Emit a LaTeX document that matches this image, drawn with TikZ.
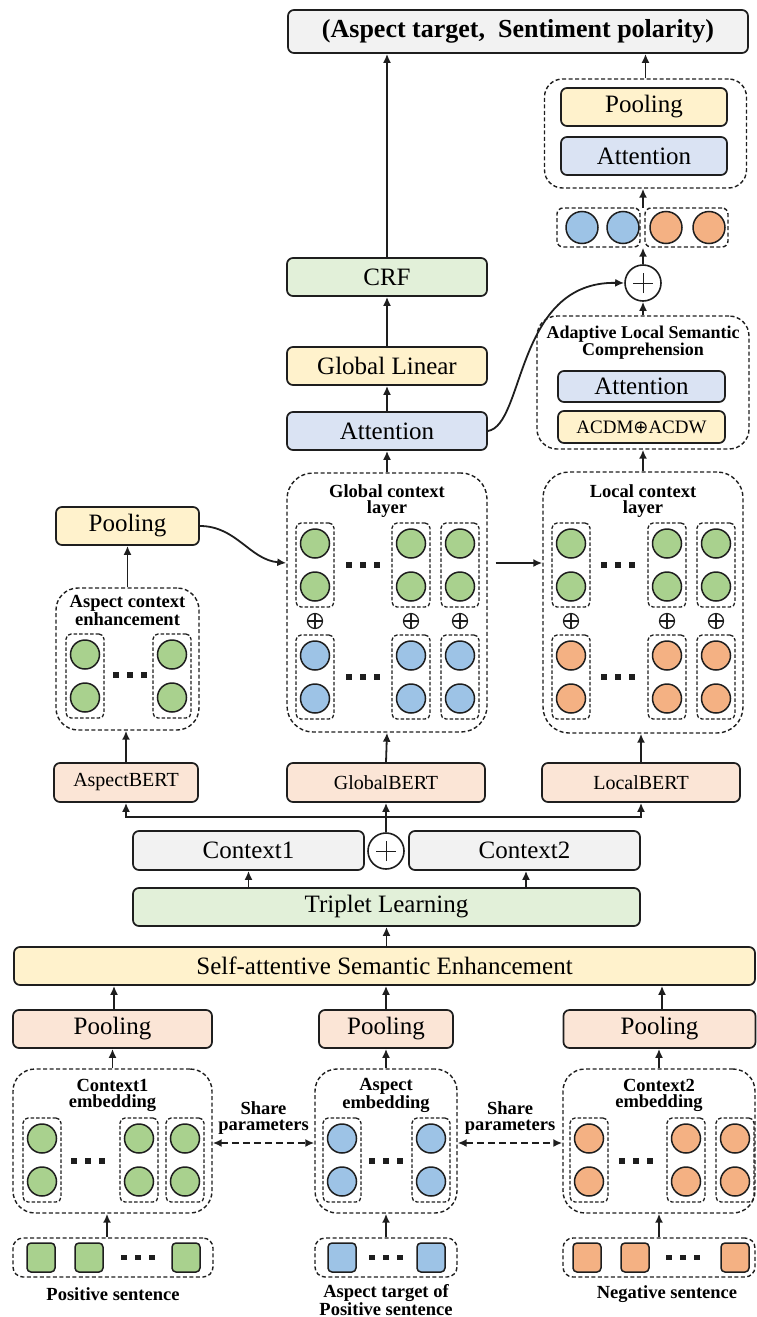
\documentclass[tikz,border=0pt]{standalone}
\usepackage{fontspec}
\setmainfont{Liberation Serif}
\newfontfamily\dejavu{DejaVu Sans}
\usetikzlibrary{arrows.meta}
\definecolor{ink}{HTML}{1E1E1E}
\definecolor{fgray}{HTML}{F2F2F2}
\definecolor{fgreen}{HTML}{E2F0D9}
\definecolor{fyellow}{HTML}{FFF2CC}
\definecolor{fblue}{HTML}{DAE3F3}
\definecolor{fsalmon}{HTML}{FBE5D6}
\definecolor{cgreen}{HTML}{A9D18E}
\definecolor{cblue}{HTML}{9DC3E6}
\definecolor{corange}{HTML}{F4B183}
\newcommand{\colstack}[4]{%
  \node[stackbox] (#1) at (#2,{#3+42}) {};
  \node[ball,fill=#4] (#1-a) at (#2,{#3+20.5}) {};
  \node[ball,fill=#4] (#1-b) at (#2,{#3+63.5}) {};
}
\newcommand{\tridots}[2]{%
  \foreach \dx in {-14,0,14}{\fill[ink] ({#1+\dx-2.9},{#2-2.9}) rectangle ({#1+\dx+2.9},{#2+2.9});}%
}
\begin{document}
\begin{tikzpicture}[x=1pt,y=-1pt,
  box/.style={draw=ink, line width=1.7pt, rounded corners=6pt, inner sep=0pt, align=center, font=\fontsize{25}{28}\selectfont},
  dbox/.style={draw=ink, line width=1.4pt, dash pattern=on 4pt off 2.5pt, rounded corners=22pt, inner sep=0pt},
  sbox/.style={draw=ink, line width=1.4pt, dash pattern=on 4pt off 2.5pt, rounded corners=8pt, inner sep=0pt},
  stackbox/.style={draw=ink, line width=1.3pt, dash pattern=on 3.5pt off 2pt, rounded corners=5pt, minimum width=38pt, minimum height=84pt, inner sep=0pt},
  ball/.style={circle, draw=ink, line width=1.5pt, minimum size=29pt, inner sep=0pt},
  bigball/.style={circle, draw=ink, line width=1.5pt, minimum size=32pt, inner sep=0pt},
  sq/.style={rectangle, rounded corners=4pt, draw=ink, line width=1.5pt, minimum width=28pt, minimum height=29pt, inner sep=0pt},
  arr/.style={-{Latex[length=9pt,width=8pt]}, line width=1.8pt, draw=ink},
  mid/.style={font=\fontsize{20}{22}\selectfont},
  ttl/.style={font=\bfseries\fontsize{18.5}{16}\selectfont, align=center, inner sep=0pt},
  oplus/.style={circle, draw=ink, line width=1.2pt, minimum size=15pt, inner sep=0pt,
    path picture={\draw[ink, line width=1.2pt] (path picture bounding box.west) -- (path picture bounding box.east) (path picture bounding box.north) -- (path picture bounding box.south);}},
  bigplus/.style={circle, draw=ink, line width=1.6pt, minimum size=36pt, inner sep=0pt,
    path picture={\draw[ink, line width=0.9pt] ([xshift=-10pt]path picture bounding box.center) -- ([xshift=10pt]path picture bounding box.center) ([yshift=-10pt]path picture bounding box.center) -- ([yshift=10pt]path picture bounding box.center);}}
]
\useasboundingbox (0,0) rectangle (756,1317);

% ---------- top ----------
\node[box, fill=fgray, minimum width=460pt, minimum height=43pt, font=\bfseries\fontsize{26}{28}\selectfont] (title) at (518,31.5) {(Aspect target,\ \ Sentiment polarity)};

\node[dbox, minimum width=202pt, minimum height=109pt, rounded corners=18pt] (rdash) at (645.5,133.5) {};
\node[box, fill=fyellow, minimum width=166pt, minimum height=38pt] (rpool) at (644,107) {Pooling};
\node[box, fill=fblue, minimum width=166pt, minimum height=38pt] (ratt) at (644,156) {Attention};

\node[sbox, rounded corners=6pt, minimum width=83pt, minimum height=39pt] (g1) at (598.5,227.5) {};
\node[sbox, rounded corners=6pt, minimum width=83pt, minimum height=39pt] (g2) at (686.5,227.5) {};
\node[bigball, fill=cblue] (g1a) at (582,227.5) {};
\node[bigball, fill=cblue] (g1b) at (623,227.5) {};
\node[bigball, fill=corange] (g2a) at (666,227.5) {};
\node[bigball, fill=corange] (g2b) at (709,227.5) {};
\coordinate (gmid) at (643,208);

\node[bigplus] (plusT) at (643,283) {};

\node[box, fill=fgreen, minimum width=200pt, minimum height=38pt] (crf) at (387,277) {CRF};
\node[box, fill=fyellow, minimum width=200pt, minimum height=38pt] (glin) at (387,366) {Global Linear};
\node[box, fill=fblue, minimum width=200pt, minimum height=38pt] (gatt) at (387,431) {Attention};

\node[dbox, minimum width=212pt, minimum height=133pt, rounded corners=20pt] (alsc) at (643,382.5) {};
\node[ttl, font=\bfseries\fontsize{18}{15.5}\selectfont] (alsct) at (643,343) {Adaptive Local Semantic\\Comprehension};
\node[box, fill=fblue, minimum width=167pt, minimum height=31pt] (latt) at (641.5,386.5) {Attention};
\node[box, fill=fyellow, minimum width=167pt, minimum height=32pt, font=\fontsize{19}{21}\selectfont] (acdm) at (641.5,427) {ACDM{\dejavu\fontsize{18}{20}\selectfont ⊕}ACDW};

% ---------- context layers ----------
\node[dbox, minimum width=200pt, minimum height=259pt, rounded corners=26pt] (glob) at (387,602.5) {};
\node[ttl] (globt) at (387,501) {Global context\\layer};
\colstack{gs1}{315}{523}{cgreen}
\colstack{gs2}{411}{523}{cgreen}
\colstack{gs3}{460}{523}{cgreen}
\colstack{gb1}{315}{635}{cblue}
\colstack{gb2}{411}{635}{cblue}
\colstack{gb3}{460}{635}{cblue}
\node[oplus] (gp1) at (315,621) {};
\node[oplus] (gp2) at (411,621) {};
\node[oplus] (gp3) at (460,621) {};
\tridots{363}{565}
\tridots{363}{677}

\node[dbox, minimum width=200pt, minimum height=261pt, rounded corners=26pt] (loc) at (643,602.5) {};
\node[ttl] (loct) at (643,501) {Local context\\layer};
\colstack{ls1}{571}{523}{cgreen}
\colstack{ls2}{667}{523}{cgreen}
\colstack{ls3}{716}{523}{cgreen}
\colstack{lo1}{571}{635}{corange}
\colstack{lo2}{667}{635}{corange}
\colstack{lo3}{716}{635}{corange}
\node[oplus] (lp1) at (571,621) {};
\node[oplus] (lp2) at (667,621) {};
\node[oplus] (lp3) at (716,621) {};
\tridots{618}{565}
\tridots{618}{677}

\node[box, fill=fyellow, minimum width=143pt, minimum height=38pt] (lpool) at (127.5,526) {Pooling};
\node[dbox, minimum width=143pt, minimum height=142pt, rounded corners=22pt] (ace) at (127.5,659) {};
\node[ttl] (acet) at (127.5,610.5) {Aspect context\\enhancement};
\colstack{as1}{85}{634}{cgreen}
\colstack{as2}{172}{634}{cgreen}
\tridots{130}{675}

% ---------- BERT row ----------
\node[box, fill=fsalmon, minimum width=144pt, minimum height=39pt, mid] (abert) at (126,782.5) {AspectBERT};
\node[box, fill=fsalmon, minimum width=198pt, minimum height=39pt, mid] (gbert) at (386,782.5) {GlobalBERT};
\node[box, fill=fsalmon, minimum width=198pt, minimum height=39pt, mid] (lbert) at (641,782.5) {LocalBERT};
\coordinate (bus) at (386,817);

\node[box, fill=fgray, minimum width=231pt, minimum height=39pt] (ctx1) at (248.5,850.5) {Context1};
\node[box, fill=fgray, minimum width=231pt, minimum height=39pt] (ctx2) at (524.5,850.5) {Context2};
\node[bigplus] (plusC) at (386,851) {};
\node[box, fill=fgreen, minimum width=507pt, minimum height=38pt] (trip) at (386.5,907) {Triplet Learning};
\node[box, fill=fyellow, minimum width=741pt, minimum height=38pt] (sase) at (384.5,966) {Self-attentive Semantic Enhancement};

% ---------- bottom ----------
\node[box, fill=fsalmon, minimum width=199pt, minimum height=38pt] (pool1) at (112.5,1029) {Pooling};
\node[box, fill=fsalmon, minimum width=134pt, minimum height=38pt] (pool2) at (386,1029) {Pooling};
\node[box, fill=fsalmon, minimum width=192pt, minimum height=38pt] (pool3) at (659.5,1029) {Pooling};

\node[dbox, minimum width=199pt, minimum height=144pt, rounded corners=22pt] (emb1) at (112.5,1141) {};
\node[ttl] (emb1t) at (112.5,1095.5) {Context1\\embedding};
\colstack{e1a}{42}{1118}{cgreen}
\colstack{e1b}{139}{1118}{cgreen}
\colstack{e1c}{185}{1118}{cgreen}
\tridots{88}{1161}

\node[dbox, minimum width=142pt, minimum height=144pt, rounded corners=22pt] (emb2) at (386,1141) {};
\node[ttl] (emb2t) at (386,1095.5) {Aspect\\embedding};
\colstack{e2a}{342}{1118}{cblue}
\colstack{e2b}{431}{1118}{cblue}
\tridots{386}{1161}

\node[dbox, minimum width=192pt, minimum height=144pt, rounded corners=22pt] (emb3) at (659,1141) {};
\node[ttl] (emb3t) at (659,1095.5) {Context2\\embedding};
\colstack{e3a}{589}{1118}{corange}
\colstack{e3b}{686}{1118}{corange}
\colstack{e3c}{735}{1118}{corange}
\tridots{636}{1161}

\node[dbox, minimum width=200pt, minimum height=39pt, rounded corners=10pt] (in1) at (113,1257.5) {};
\node[sq, fill=cgreen] (in1a) at (41,1257.5) {};
\node[sq, fill=cgreen] (in1b) at (89,1257.5) {};
\node[sq, fill=cgreen] (in1c) at (186,1257.5) {};
\tridots{138}{1257.5}
\node[dbox, minimum width=142pt, minimum height=39pt, rounded corners=10pt] (in2) at (386,1257.5) {};
\node[sq, fill=cblue] (in2a) at (342,1257.5) {};
\node[sq, fill=cblue] (in2b) at (431,1257.5) {};
\tridots{386}{1257.5}
\node[dbox, minimum width=192pt, minimum height=39pt, rounded corners=10pt] (in3) at (659,1257.5) {};
\node[sq, fill=corange] (in3a) at (587,1257.5) {};
\node[sq, fill=corange] (in3b) at (635,1257.5) {};
\node[sq, fill=corange] (in3c) at (735,1257.5) {};
\tridots{683}{1257.5}

\node[ttl] (lab1) at (113,1294) {Positive sentence};
\node[ttl, font=\bfseries\fontsize{18.5}{15.5}\selectfont] (lab2) at (386,1300) {Aspect target of\\Positive sentence};
\node[ttl] (lab3) at (667,1294) {Negative sentence};

\node[ttl] (sh1) at (263.5,1118) {Share\\parameters};
\node[ttl] (sh2) at (510,1118) {Share\\parameters};

% ---------- connectors ----------
\draw[arr] (crf.north) -- (crf.north |- title.south);
\draw[arr] (rdash.north) -- (rdash.north |- title.south);
\draw[arr] (gmid) -- (gmid |- rdash.south);
\draw[arr] (plusT.north) -- (plusT.north |- g1.south);
\draw[arr] (gatt.east) .. controls (525,425) and (515,281) .. (plusT.west);
\draw[arr] (alsc.north) -- (plusT.south);
\draw[arr] (gatt.north) -- (glin.south);
\draw[arr] (glin.north) -- (crf.south);
\draw[arr] (loc.north) -- (loc.north |- alsc.south);
\draw[arr] (glob.north) -- (gatt.south);
\draw[arr] ([xshift=8pt,yshift=39.5pt]glob.east) -- ([yshift=39.5pt]loc.west);
\draw[arr] (lpool.east) to[out=0,in=175] ([yshift=39.5pt]glob.west);
\draw[arr] (ace.north) -- (lpool.south);

\draw[arr] (abert.north) -- (abert.north |- ace.south);
\draw[arr] (gbert.north) -- (glob.south);
\draw[arr] (lbert.north) -- (lbert.north |- loc.south);
\draw[arr] (plusC.north) -- (gbert.south);
\draw[arr] (bus) -| (abert.south);
\draw[arr] (bus) -| (lbert.south);

\draw[arr] (ctx1.south |- trip.north) -- (ctx1.south);
\draw[arr] ([xshift=1.5pt]ctx2.south |- trip.north) -- ([xshift=1.5pt]ctx2.south);
\draw[arr] (trip.north |- sase.north) -- (trip.south);
\draw[arr] ([xshift=1.5pt]pool1.north) -- ([xshift=1.5pt]pool1.north |- sase.south);
\draw[arr] (pool2.north) -- (pool2.north |- sase.south);
\draw[arr] ([xshift=2.5pt]pool3.north) -- ([xshift=2.5pt]pool3.north |- sase.south);

\draw[arr] (emb1.north) -- (pool1.south);
\draw[arr] (emb2.north) -- (pool2.south);
\draw[arr] (emb3.north) -- (emb3.north |- pool3.south);
\draw[arr] ([xshift=-6pt]in1.north) -- ([xshift=-6pt]in1.north |- emb1.south);
\draw[arr] (in2.north) -- (emb2.south);
\draw[arr] (in3.north) -- (emb3.south);

\draw[{Latex[length=9pt,width=8pt]}-{Latex[length=9pt,width=8pt]}, line width=1.9pt, ink, dash pattern=on 7pt off 4pt] ([yshift=-2pt]emb1.east) -- ([yshift=-2pt]emb2.west);
\draw[{Latex[length=9pt,width=8pt]}-{Latex[length=9pt,width=8pt]}, line width=1.9pt, ink, dash pattern=on 7pt off 4pt] ([yshift=-2pt]emb2.east) -- ([yshift=-2pt]emb3.west);
\end{tikzpicture}
\end{document}
